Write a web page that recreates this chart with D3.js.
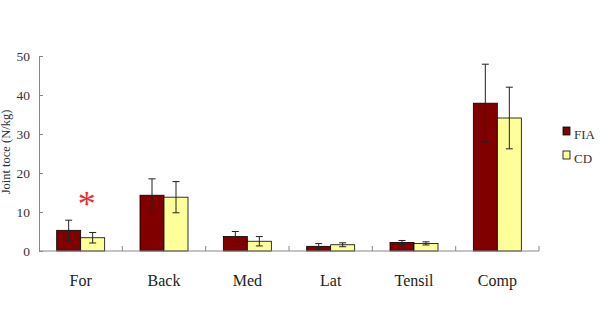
<!DOCTYPE html>
<html>
<head>
<meta charset="utf-8">
<script src="https://cdn.jsdelivr.net/npm/d3@7"></script>
<style>
  body { margin: 0; background: #fff; }
  svg { display: block; font-family: "Liberation Serif", "DejaVu Serif", serif; }
</style>
</head>
<body>
<div id="chart"></div>
<script>
// categories and values
const categories = ["For", "Back", "Med", "Lat", "Tensil", "Comp"];
const seriesNames = ["FIA", "CD"];
const fiaMean = [5.3, 14.3, 3.7, 1.2, 2.2, 37.9];
const fiaErr  = [2.6, 4.2, 1.3, 0.7, 0.5, 10.0];
const cdMean  = [3.4, 13.8, 2.5, 1.6, 1.95, 34.1];
const cdErr   = [1.35, 4.0, 1.2, 0.5, 0.4, 7.9];
const yTicks  = [0, 10, 20, 30, 40, 50];
const colors  = ["#800000", "#ffff99"];

const width = 601, height = 316;
const svg = d3.select("#chart")
    .append("svg")
    .attr("width", width)
    .attr("height", height);

// scales
const x = d3.scaleBand().domain(categories).range([39, 539]).padding(0);
const y = d3.scaleLinear().domain([0, 50]).range([251, 56]);
const barW = 24;
const xs = d3.scaleBand().domain(seriesNames).range([-barW, barW]);

// table for bars
const rows = [];
categories.forEach((c, i) => {
    rows.push({ cat: c, s: "FIA", v: fiaMean[i], e: fiaErr[i] });
    rows.push({ cat: c, s: "CD", v: cdMean[i], e: cdErr[i] });
});
const cx = d => x(d.cat) + x.bandwidth() / 2 + xs(d.s);

// bars
svg.selectAll(".bar")
    .data(rows)
    .enter()
    .append("rect")
    .attr("class", "bar")
    .attr("x", d => cx(d))
    .attr("y", d => y(d.v))
    .attr("width", xs.bandwidth())
    .attr("height", d => y(0) - y(d.v))
    .style("fill", d => colors[seriesNames.indexOf(d.s)])
    .style("stroke", "#000")
    .style("stroke-width", 0.8);

// error bars
const eb = svg.selectAll(".err")
    .data(rows)
    .enter()
    .append("g")
    .attr("class", "err")
    .style("stroke", "#222")
    .style("stroke-width", 1);
eb.append("line")
    .attr("x1", d => cx(d) + xs.bandwidth() / 2)
    .attr("x2", d => cx(d) + xs.bandwidth() / 2)
    .attr("y1", d => y(d.v + d.e))
    .attr("y2", d => y(Math.max(0, d.v - d.e)));
eb.append("line")
    .attr("x1", d => cx(d) + xs.bandwidth() / 2 - 3.5)
    .attr("x2", d => cx(d) + xs.bandwidth() / 2 + 3.5)
    .attr("y1", d => y(d.v + d.e))
    .attr("y2", d => y(d.v + d.e));
eb.append("line")
    .attr("x1", d => cx(d) + xs.bandwidth() / 2 - 3.5)
    .attr("x2", d => cx(d) + xs.bandwidth() / 2 + 3.5)
    .attr("y1", d => y(Math.max(0, d.v - d.e)))
    .attr("y2", d => y(Math.max(0, d.v - d.e)));

// y axis
const yAxis = svg.append("g")
    .attr("transform", "translate(39,0)")
    .call(d3.axisLeft(y).tickValues(yTicks).tickSizeInner(-4).tickSizeOuter(0).tickPadding(9));
yAxis.select(".domain").style("stroke", "#888");
yAxis.selectAll(".tick line").style("stroke", "#888");
yAxis.selectAll(".tick text")
    .style("font-size", "13.5px")
    .style("fill", "#333")
    .style("font-family", "Liberation Serif, serif");

// x axis line and separator ticks
svg.append("line")
    .attr("x1", 39).attr("x2", 539)
    .attr("y1", y(0)).attr("y2", y(0))
    .style("stroke", "#888");
svg.selectAll(".xtick")
    .data(categories.slice(1).concat(["_end"]))
    .enter()
    .append("line")
    .attr("class", "xtick")
    .attr("x1", d => d === "_end" ? x.range()[1] : x(d))
    .attr("x2", d => d === "_end" ? x.range()[1] : x(d))
    .attr("y1", y(0)).attr("y2", y(0) - 5)
    .style("stroke", "#888");

// category labels
svg.selectAll(".cat")
    .data(categories)
    .enter()
    .append("text")
    .attr("x", d => x(d) + x.bandwidth() / 2)
    .attr("y", 286)
    .attr("text-anchor", "middle")
    .style("font-size", "16px")
    .style("fill", "#222")
    .text(d => d);

// y axis title
svg.append("text")
    .attr("transform", "translate(10,152) rotate(-90)")
    .attr("text-anchor", "middle")
    .style("font-size", "12.5px")
    .style("fill", "#333")
    .text("Joint toce (N/kg)");

// significance asterisk
svg.append("text")
    .attr("x", x("For") + x.bandwidth() / 2 + 6)
    .attr("y", 216)
    .attr("text-anchor", "middle")
    .style("font-size", "36px")
    .style("fill", "#f03030")
    .text("*");

// legend
const legend = svg.selectAll(".leg")
    .data(seriesNames)
    .enter()
    .append("g")
    .attr("transform", (d, i) => `translate(563,${127 + i * 24})`);
legend.append("rect")
    .attr("width", 7).attr("height", 8)
    .style("fill", (d, i) => colors[i])
    .style("stroke", "#000")
    .style("stroke-width", 0.8);
legend.append("text")
    .attr("x", 11).attr("y", 12)
    .style("font-size", "13px")
    .style("fill", "#333")
    .text(d => d);
</script>
</body>
</html>
